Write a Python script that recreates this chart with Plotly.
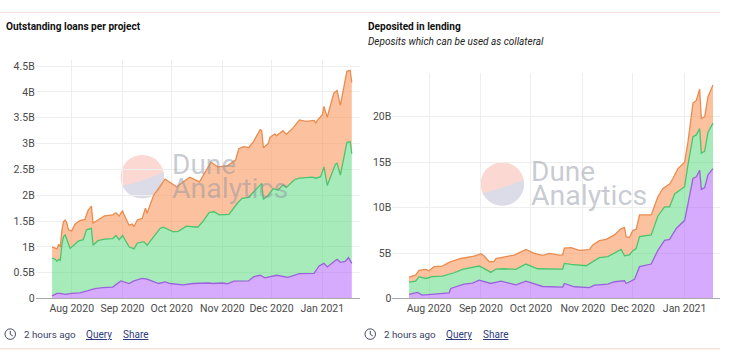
import math
import pandas as pd
import plotly.graph_objects as go

START = pd.Timestamp("2020-07-20")

# Left chart: stack tops in billions, per day-offset from 2020-07-20
loan_purple_days = [0,3,5,8,12,17,22,26,31,37,42,47,50,55,58,65,69,72,80,86,96,98,104,107,111,120,123,127,130,137,144,151,160,163,166,168,172,174,176,179,181,183]
loan_purple = [.05,.1,.1,.08,.1,.11,.15,.19,.21,.22,.34,.29,.34,.39,.375,.29,.32,.29,.265,.29,.3,.29,.3,.285,.335,.34,.42,.45,.4,.45,.41,.48,.485,.63,.68,.61,.71,.76,.7,.72,.79,.68]
loan_green_days = [0,2,3,4,5,6,7,8,11,13,16,19,21,24,25,28,32,37,39,41,43,47,50,52,56,58,61,66,68,74,77,82,89,92,96,99,102,108,113,116,120,124,128,129,132,135,138,141,143,148,151,159,161,164,166,168,173,174,176,180,182,183]
loan_green = [.78,.76,.72,.76,.74,1.05,1.2,1.23,.97,1.03,1.11,1.14,1.33,1.36,1.03,1.12,1.15,1.16,1.22,1.14,1.22,1.0,.96,1.07,1.1,1.03,1.16,1.36,1.38,1.29,1.3,1.4,1.38,1.49,1.67,1.68,1.62,1.63,1.84,1.94,1.96,2.1,2.23,1.92,2.0,2.13,2.1,2.2,2.15,2.3,2.33,2.35,2.33,2.36,2.55,2.19,2.6,2.62,2.39,3.02,3.04,2.8]
loan_orange_days = [0,2,3,4,5,6,7,8,9,10,12,14,17,20,22,24,25,28,32,37,39,41,43,44,47,49,50,52,55,57,58,62,69,76,84,90,97,101,107,112,114,117,120,123,127,128,129,132,133,136,137,141,143,147,151,155,160,161,162,165,166,168,172,174,176,180,182,183]
loan_orange = [1.0,.98,.96,1.05,1.0,1.33,1.49,1.52,1.46,1.33,1.31,1.44,1.51,1.53,1.71,1.79,1.46,1.52,1.6,1.62,1.66,1.6,1.7,1.62,1.42,1.44,1.39,1.52,1.55,1.75,1.65,2.0,2.31,2.165,2.35,2.26,2.64,2.55,2.57,2.68,2.9,2.94,2.92,3.04,3.27,3.25,2.92,3.0,3.12,3.19,3.15,3.25,3.18,3.3,3.46,3.43,3.45,3.4,3.45,3.56,3.72,3.51,3.98,4.03,3.74,4.4,4.42,4.18]

# Right chart
dep_purple_days = [0,5,8,17,24,25,33,38,42,49,55,64,70,80,92,93,99,108,111,119,123,129,130,135,136,138,145,149,153,156,160,165,167,170,172,174,175,177,179,182]
dep_purple = [.44,.66,.37,.55,.62,1.1,1.58,1.7,2.02,1.65,1.9,1.5,1.9,1.32,1.25,1.65,1.29,1.2,1.47,1.58,1.84,1.95,1.65,2.1,2.57,3.5,3.79,5.3,6.4,6.5,7.7,8.6,10.4,13.2,13.4,14.1,12,12.2,13.6,14.3]
dep_green_days = [0,4,6,10,14,20,27,32,42,44,49,52,57,64,70,77,92,93,97,106,114,119,127,129,132,134,136,138,145,149,153,156,159,165,167,170,172,174,175,177,179,182]
dep_green = [1.8,1.9,2.4,2.2,2.4,2.46,2.83,3.2,3.57,3.4,2.87,3.24,3.27,3.2,3.79,3.27,3.24,3.86,3.75,3.6,4.5,4.6,5.4,4.7,4.8,5.26,5.5,6.8,7.0,9.08,10.07,10.07,11.5,12.3,14.7,17.8,18,18.7,16,16.2,18.3,19.3]
dep_orange_days = [0,4,6,10,12,15,20,24,31,34,39,43,45,48,51,52,59,63,70,75,80,84,90,92,93,97,102,108,110,114,118,123,127,129,130,132,134,136,138,145,149,152,156,158,161,165,167,170,172,174,175,177,179,182]
dep_orange = [2.35,2.57,3.1,3.2,3.05,3.5,3.57,3.97,4.4,4.5,4.67,4.93,4.67,4.04,4.08,4.4,4.67,4.78,5.4,4.96,4.74,4.96,4.78,4.8,5.55,5.6,5.3,5.37,5.88,6.36,6.5,7.0,7.7,7.8,6.8,6.7,7.5,7.6,9.2,9.2,11.2,12.1,12.6,13.2,14.3,15.0,17.2,21.5,21.8,23.05,19.8,20,22.2,23.5]

month_ticks = ["2020-08-01","2020-09-01","2020-10-01","2020-11-01","2020-12-01","2021-01-01"]
month_labels = ["Aug 2020","Sep 2020","Oct 2020","Nov 2020","Dec 2020","Jan 2021"]
loan_ticks = [0,.5,1,1.5,2,2.5,3,3.5,4,4.5]
loan_labels = ["0","0.5B","1B","1.5B","2B","2.5B","3B","3.5B","4B","4.5B"]
dep_ticks = [0,5,10,15,20]
dep_labels = ["0","5B","10B","15B","20B"]

W, H = 734, 360
YFIX = 1.0194  # the picture comes out slightly compressed vertically
FONT = "Roboto"
INK = "#4a4a4a"
LINK = "#2f3b7c"
def px(x): return x / W
def py(y): return 1 - y * YFIX / H

def dates(days):
    return [START + pd.Timedelta(days=int(d)) for d in days]

fig = go.Figure()
styles = [("#9a62dc", "rgba(181,102,252,0.55)"), ("#4cc46e", "rgba(80,216,120,0.50)"), ("#ea8c4e", "rgba(250,150,90,0.58)")]
def add_stack(series, xa, ya):
    for i, ((d, v), (lc, fc)) in enumerate(zip(series, styles)):
        fig.add_trace(go.Scatter(x=dates(d), y=v, mode="lines", xaxis=xa, yaxis=ya,
                                 line=dict(color=lc, width=1.3), fillcolor=fc,
                                 fill="tozeroy" if i == 0 else "tonexty",
                                 hoverinfo="skip", showlegend=False))
add_stack([(loan_purple_days, loan_purple), (loan_green_days, loan_green), (loan_orange_days, loan_orange)], "x", "y")
add_stack([(dep_purple_days, dep_purple), (dep_green_days, dep_green), (dep_orange_days, dep_orange)], "x2", "y2")

def xax(l, r, rng):
    return dict(domain=[px(l), px(r)], range=rng, type="date", tickvals=month_ticks, ticktext=month_labels,
                showgrid=True, gridcolor="#eeeeee", gridwidth=1, showline=True, linecolor="#a8a8a8", linewidth=1.2,
                ticks="", tickfont=dict(family=FONT, size=10.5, color=INK), zeroline=False)
def yax(top, rng, tv, tt):
    return dict(domain=[py(298.6), py(top)], range=rng, tickvals=tv, ticktext=tt, showgrid=True,
                gridcolor="#eeeeee", gridwidth=1, ticks="", zeroline=False,
                tickfont=dict(family=FONT, size=10.5, color=INK))

shapes = []
annotations = []
def text(x, y, s, size, color=INK, **kw):
    annotations.append(dict(x=px(x), y=py(y), xref="paper", yref="paper", text=s, showarrow=False,
                            xanchor="left", yanchor="middle", align="left",
                            xshift=-1, font=dict(family=FONT, size=size, color=color), **kw))

def watermark(cx, cy, tx):
    r = 21.7
    shapes.append(dict(type="circle", xref="paper", yref="paper", layer="below",
                       x0=px(cx-r), x1=px(cx+r), y0=py(cy+r), y1=py(cy-r),
                       fillcolor="#fbd8d2", line=dict(width=0)))
    pts = []
    a0, a1 = math.radians(-12), math.radians(155)
    n = 30
    for i in range(n + 1):
        a = a0 + (a1 - a0) * i / n
        pts.append((cx + r * math.cos(a), cy + r * math.sin(a)))
    xe, ye = pts[-1]; xs, ys = pts[0]
    cxm, cym = (xe + xs) / 2 + 2, (ye + ys) / 2 + 2
    for i in range(1, 11):
        t = i / 10
        pts.append(((1-t)**2*xe + 2*t*(1-t)*cxm + t*t*xs, (1-t)**2*ye + 2*t*(1-t)*cym + t*t*ys))
    path = "M " + " L ".join(f"{px(a)} {py(b)}" for a, b in pts) + " Z"
    shapes.append(dict(type="path", xref="paper", yref="paper", layer="below", path=path,
                       fillcolor="#dcdce8", line=dict(width=0)))
    text(tx, cy, "<span style='font-size:28px'>Dune</span><br><span style='font-size:28.5px'>Analytics</span>",
         18.5, "rgba(140,146,160,0.48)")

watermark(142.3, 176.7, 171)
watermark(502.3, 184, 530)

text(5, 27, "<b>Outstanding loans per project</b>", 10.1, "#111111")
text(367, 27, "<b>Deposited in lending</b>", 10.1, "#111111")
text(367, 41.5, "<i>Deposits which can be used as collateral</i>", 10, "#222222")

def footer(x0):
    shapes.append(dict(type="circle", xref="paper", yref="paper", x0=px(x0), x1=px(x0+10.5),
                       y0=py(339.5), y1=py(329), line=dict(color="#444a60", width=1)))
    cx = x0 + 5.25
    shapes.append(dict(type="path", xref="paper", yref="paper",
                       path=f"M {px(cx)} {py(331)} L {px(cx)} {py(334.5)} L {px(cx+2.5)} {py(336)}",
                       line=dict(color="#444a60", width=1)))
    text(x0 + 18, 334.3, "2 hours ago", 9.8, "#3a4468")
    text(x0 + 80, 334.3, "<u>Query</u>", 10, LINK)
    text(x0 + 117, 334.3, "<u>Share</u>", 10, LINK)
footer(5)
footer(365)

for y, c, w in [(12.5, "#f6dedb", 1), (349, "#f8e2de", 1.5)]:
    shapes.append(dict(type="line", xref="paper", yref="paper", x0=0, x1=px(720), y0=py(y), y1=py(y),
                       line=dict(color=c, width=w)))

fig.update_layout(
    width=W, height=H, margin=dict(l=0, r=0, t=0, b=0), autosize=False,
    paper_bgcolor="white", plot_bgcolor="white", showlegend=False,
    xaxis=xax(35.7, 360, ["2020-07-10", "2021-01-24"]),
    yaxis=yax(60, [0, 4.62], loan_ticks, loan_labels),
    xaxis2=xax(392.3, 719.7, ["2020-07-10", "2021-01-22"]),
    yaxis2=yax(72.7, [0, 24.85], dep_ticks, dep_labels),
    shapes=shapes, annotations=annotations,
)
fig.layout.xaxis2.anchor = "y2"
fig.layout.yaxis2.anchor = "x2"
fig.write_html("out.html", config=dict(displayModeBar=False),
               post_script="document.body.style.margin='0';document.body.style.overflow='hidden';")
